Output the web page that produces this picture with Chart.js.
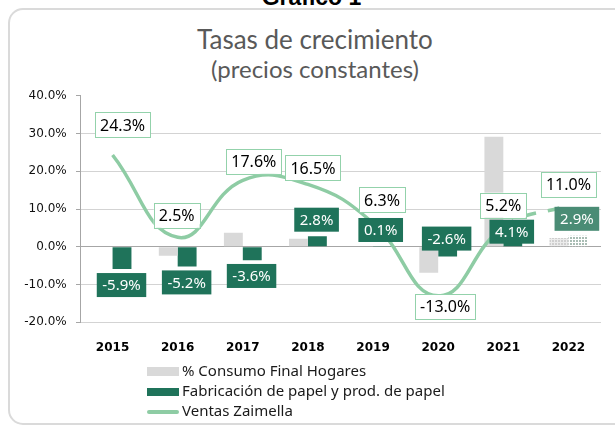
<!DOCTYPE html>
<html>
<head>
<meta charset="utf-8">
<script src="https://cdn.jsdelivr.net/npm/chart.js@4.4.0/dist/chart.umd.min.js"></script>
<style>
html,body{margin:0;padding:0;width:615px;height:425px;overflow:hidden;background:#fff;}
#card{position:absolute;left:8px;top:8px;width:660px;height:417px;border:2px solid #dadada;border-radius:15px;box-sizing:border-box;}
#fig{position:absolute;left:0;width:623px;top:-14.5px;text-align:center;font:bold 23px 'Liberation Sans',Arial,sans-serif;line-height:23px;color:#000;}
.t{position:absolute;left:0;width:630px;text-align:center;font-family:Lato,'Open Sans',sans-serif;color:#595959;white-space:nowrap;}
#t1{top:23.5px;font-size:26px;line-height:1.2;}
#t2{top:55px;font-size:24px;line-height:1.2;}
#c{position:absolute;left:0;top:0;}
.lg{position:absolute;left:182px;font:15px 'Noto Sans',sans-serif;line-height:20px;color:#1a1a1a;white-space:nowrap;}
.sw{position:absolute;left:147px;width:32px;}
</style>
</head>
<body>
<div id="card"></div>
<div id="fig">Gráfico 1</div>
<div class="t" id="t1">Tasas de crecimiento</div>
<div class="t" id="t2">(precios constantes)</div>
<canvas id="c" width="615" height="425"></canvas>
<div class="sw" style="top:367px;height:9px;background:#d9d9d9"></div>
<div class="lg" style="top:360.4px">% Consumo Final Hogares</div>
<div class="sw" style="top:387.5px;height:8.5px;background:#1f735a"></div>
<div class="lg" style="top:380.4px">Fabricación de papel y prod. de papel</div>
<div class="sw" style="top:410px;height:4px;border-radius:2px;background:#8ecca4"></div>
<div class="lg" style="top:400.4px">Ventas Zaimella</div>
<script>
// ---- data ----
const years = ['2015','2016','2017','2018','2019','2020','2021','2022'];
const consumoHogares = [null, -2.4, 3.7, 2.1, null, -6.9, 29.1, 2.3];
const fabricacionPapel = [-5.9, -5.2, -3.6, 2.8, 0.1, -2.6, 4.1, 2.9];
const ventasZaimella = [24.3, 2.5, 17.6, 16.5, 6.3, -13.0, 5.2, 11.0];
const seriesNames = ['% Consumo Final Hogares', 'Fabricación de papel y prod. de papel', 'Ventas Zaimella'];
const yMin = -20, yMax = 40, yStep = 10;

// ---- styles ----
const GRAY = '#d9d9d9', GREEN = '#1f735a', GREEN_LIGHT = '#4a8c75', LINE = '#8ecca4', LABEL_BORDER = '#93d2ab';
const projIndex = 7;

function pattern(bg, dot) {
  const t = document.createElement('canvas');
  t.width = 3; t.height = 3;
  const x = t.getContext('2d');
  x.fillStyle = bg; x.fillRect(0, 0, 3, 3);
  x.fillStyle = dot; x.fillRect(0, 0, 2, 2);
  return x.createPattern(t, 'repeat');
}
const grayPattern = pattern('#ececec', '#cfcfcf');
const greenPattern = pattern('#ffffff', '#a9bdb4');

const labelPlugin = {
  id: 'boxLabels',
  afterDatasetsDraw(chart, args, opts) {
    const ctx = chart.ctx;
    ctx.save();
    opts.sets.forEach(s => {
      const meta = chart.getDatasetMeta(s.dataset);
      const data = chart.data.datasets[s.dataset].data;
      meta.data.forEach((el, i) => {
        const v = data[i];
        if (v == null) return;
        const txt = v.toFixed(1) + '%';
        ctx.font = s.font;
        const w = ctx.measureText(txt).width + 2 * s.padX;
        const h = s.height;
        const cx = el.x + s.dx[i], cy = el.y + s.dy[i];
        ctx.fillStyle = s.fill(i);
        ctx.fillRect(cx - w / 2, cy - h / 2, w, h);
        if (s.stroke) {
          ctx.strokeStyle = s.stroke; ctx.lineWidth = 1;
          ctx.strokeRect(Math.round(cx - w / 2) + 0.5, Math.round(cy - h / 2) + 0.5, Math.round(w), Math.round(h));
        }
        ctx.fillStyle = s.color;
        ctx.textAlign = 'center';
        ctx.textBaseline = 'middle';
        ctx.fillText(txt, cx, cy + 1);
      });
    });
    ctx.restore();
  }
};

new Chart(document.getElementById('c'), {
  type: 'bar',
  data: {
    labels: years,
    datasets: [
      {
        type: 'bar', label: seriesNames[0], data: consumoHogares, order: 1,
        backgroundColor: c => c.dataIndex === projIndex ? grayPattern : GRAY,
        categoryPercentage: 0.58, barPercentage: 1
      },
      {
        type: 'bar', label: seriesNames[1], data: fabricacionPapel, order: 1,
        backgroundColor: c => c.dataIndex === projIndex ? greenPattern : GREEN,
        categoryPercentage: 0.58, barPercentage: 1
      },
      {
        type: 'line', label: seriesNames[2], data: ventasZaimella, order: 0,
        borderColor: LINE, borderWidth: 3.5, pointRadius: 0, tension: 0.45, fill: false,
        segment: { borderDash: c => c.p1DataIndex === projIndex ? [12, 12] : undefined }
      }
    ]
  },
  options: {
    responsive: false, animation: false, devicePixelRatio: 1,
    layout: { padding: { left: 0, right: 14, top: 95.7, bottom: 72.7 } },
    plugins: {
      legend: { display: false },
      tooltip: { enabled: false },
      boxLabels: {
        sets: [
          {
            dataset: 1, font: "15px 'Noto Sans'", padX: 5.5, height: 24, color: '#ffffff',
            fill: i => i === projIndex ? GREEN_LIGHT : GREEN,
            dx: [-0.5, -0.5, -0.7, -0.8, -1.8, -1, -1, -1],
            dy: [16, 16, 15.6, -16.5, -16.4, -18, 0.4, -17]
          },
          {
            dataset: 2, font: "16px 'Noto Sans'", padX: 5, height: 25, color: '#000000',
            fill: () => '#ffffff', stroke: LABEL_BORDER,
            dx: [10, -1, 11, 5, 9, 7, 0, 0],
            dy: [-30, -22, -19, -16.5, -23, 11, -22, -21]
          }
        ]
      }
    },
    scales: {
      x: {
        grid: { display: false },
        border: { display: false },
        ticks: { font: { family: 'DejaVu Sans', size: 12, weight: 'bold' }, color: '#000', padding: 10.5, maxRotation: 0 },
        afterFit(s) { s.height = 30; }
      },
      y: {
        min: yMin, max: yMax,
        ticks: { stepSize: yStep, callback: v => v.toFixed(1) + '%', font: { family: 'DejaVu Sans', size: 12 }, color: '#111', padding: 9.3 },
        grid: {
          color: c => c.tick.value === 0 ? '#a6a6a6' : (c.tick.value === yMax ? 'rgba(0,0,0,0)' : '#d3d3d3'),
          tickColor: '#a6a6a6', tickLength: 4, lineWidth: 1
        },
        border: { color: '#a6a6a6' },
        afterFit(s) { s.width = 80; }
      }
    }
  },
  plugins: [labelPlugin]
});
</script>
</body>
</html>
